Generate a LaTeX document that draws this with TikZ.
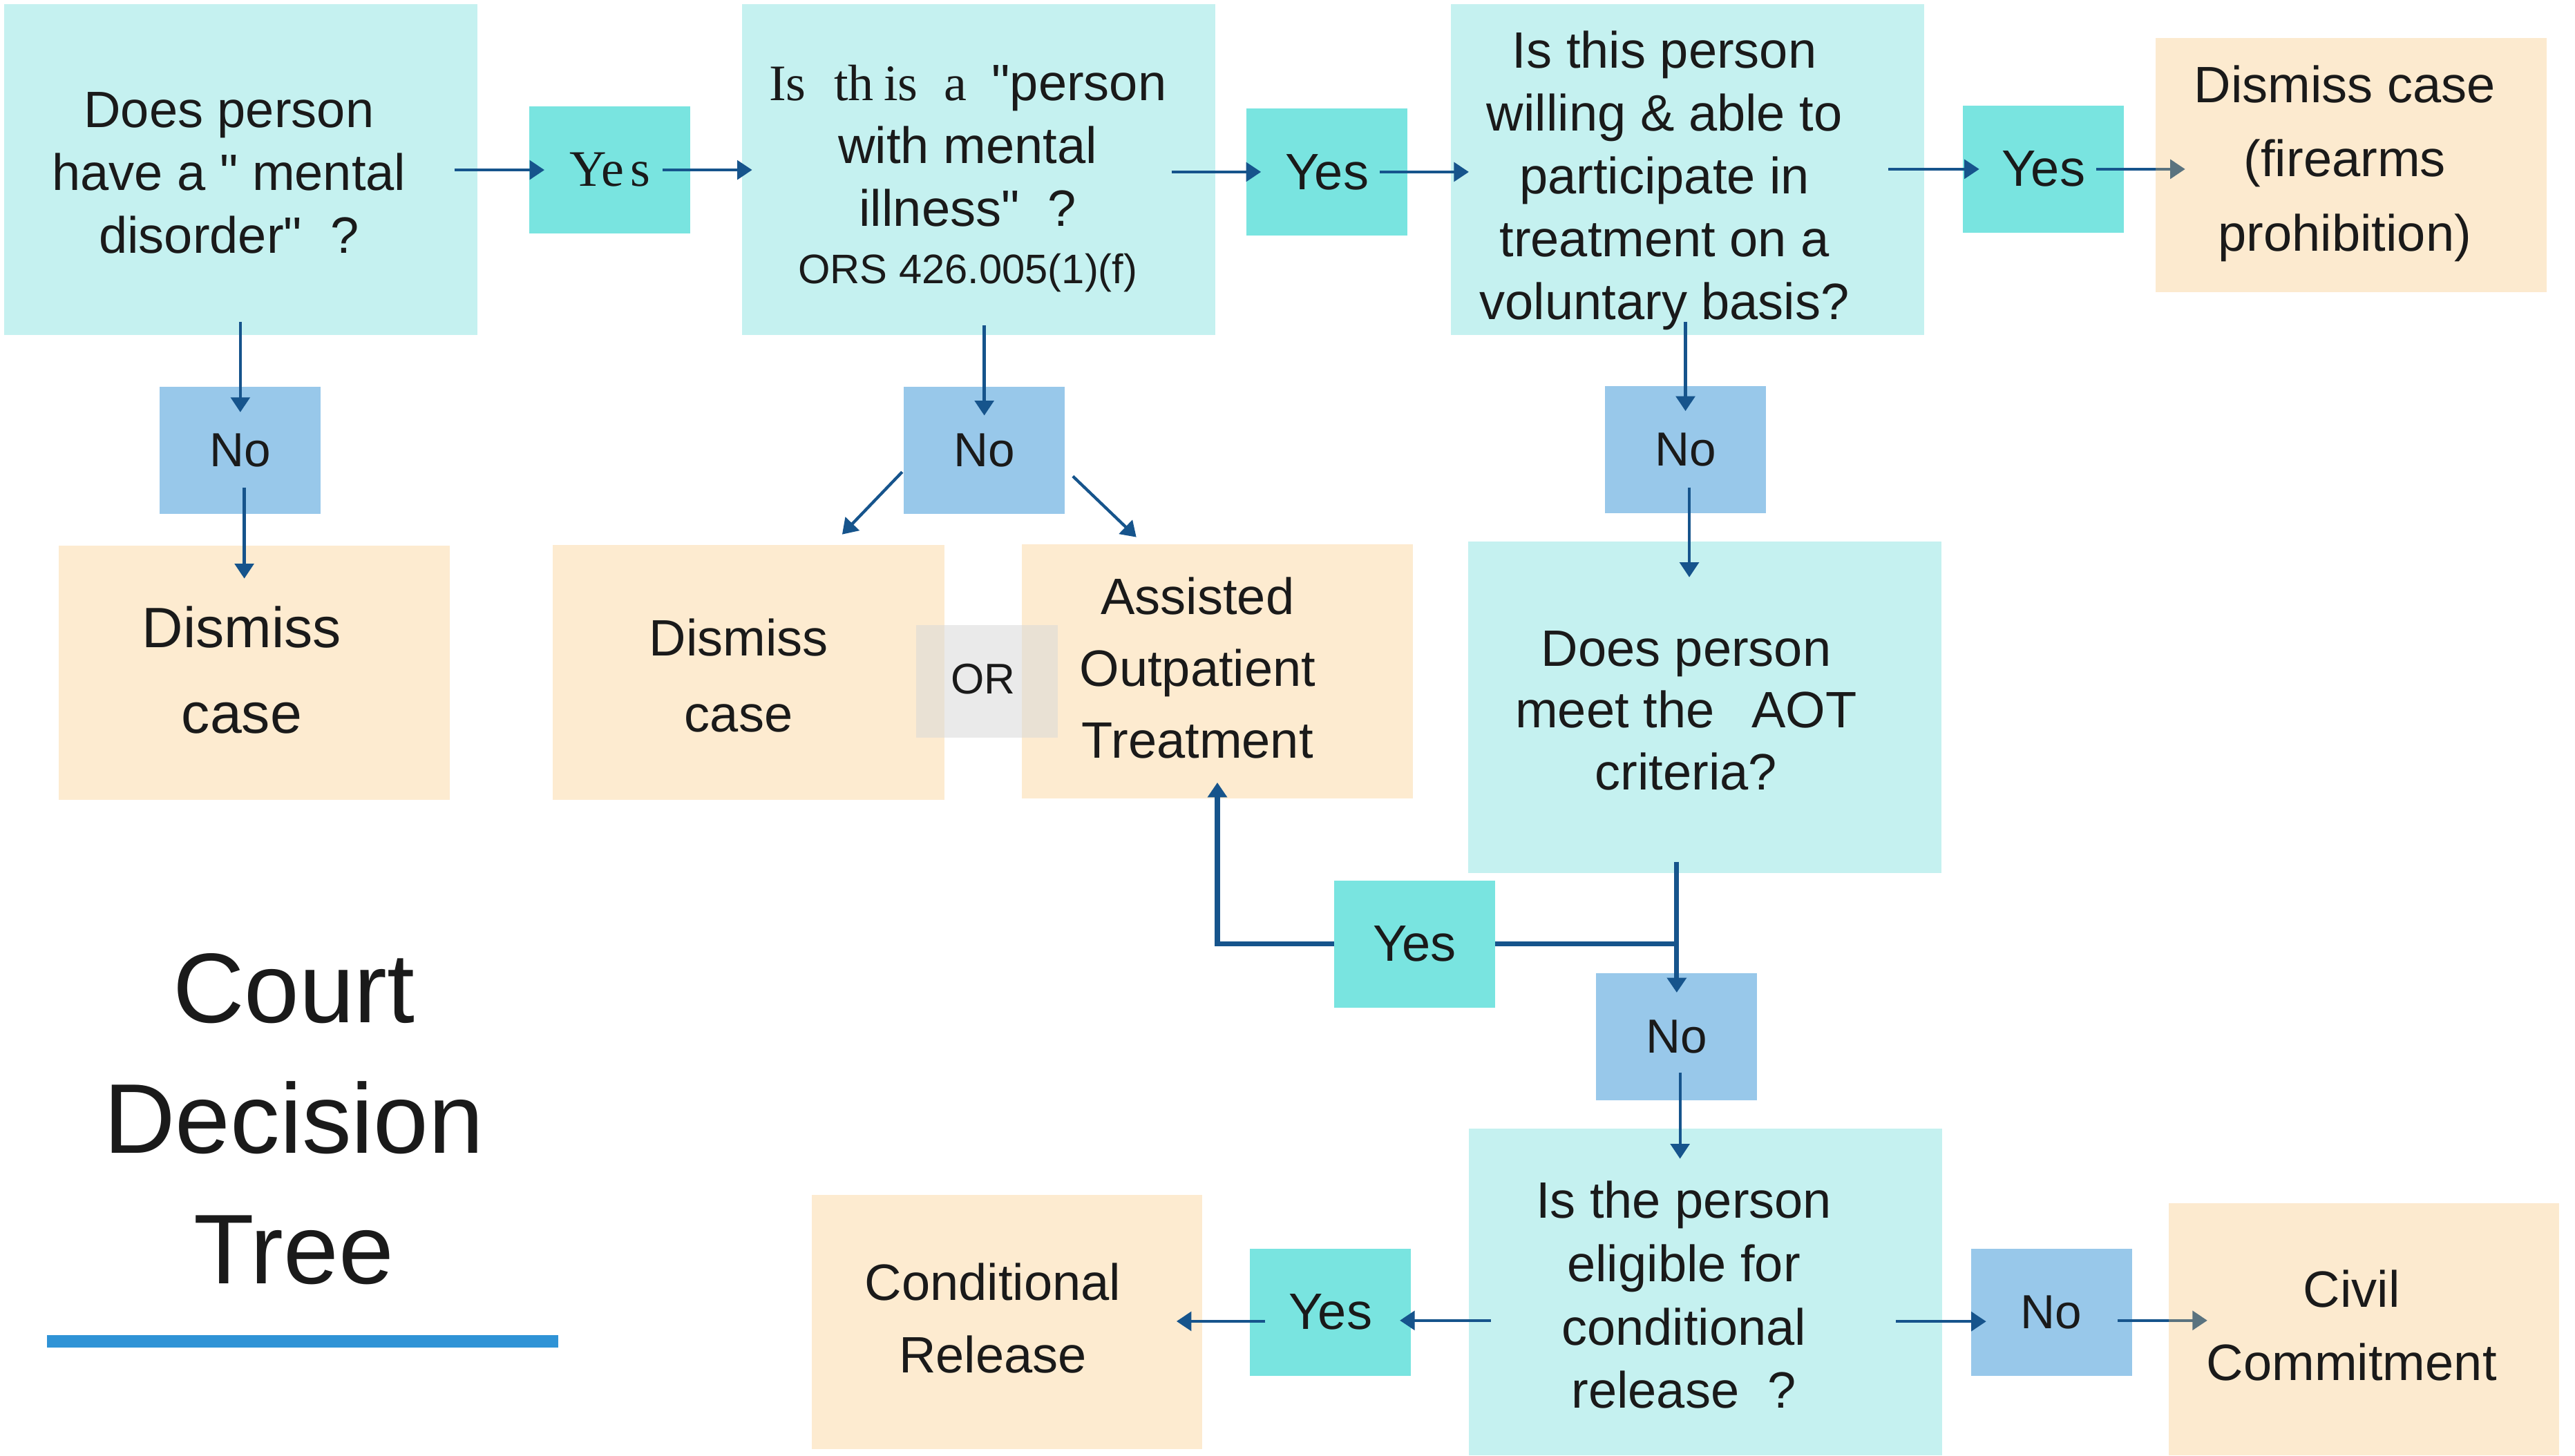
\documentclass[tikz,border=0pt]{standalone}
\usepackage{fontspec}
\setmainfont{Liberation Sans}[Ligatures=TeXOff]
\newfontfamily\seriffam{Liberation Serif}
\usetikzlibrary{arrows.meta,calc}
\definecolor{qcyan}{HTML}{C5F1F0}
\definecolor{yesc}{HTML}{79E4E0}
\definecolor{noc}{HTML}{98C8EA}
\definecolor{peach}{HTML}{FDEBD0}
\definecolor{peachT}{RGB}{248,188,98}
\definecolor{orgray}{RGB}{217,217,217}
\definecolor{arrc}{HTML}{16548C}
\definecolor{txt}{HTML}{1A1A1A}
\definecolor{titleline}{HTML}{2F93D6}
\pgfdeclarelayer{front}
\pgfsetlayers{main,front}
\newcommand\mlines[3][0]{\raisebox{-#1pt}[\height][\depth]{\begin{tabular}{@{}c@{}}#3\end{tabular}}\kern#2pt}
\tikzset{
  basebox/.style={draw=none, inner sep=0pt, text=txt},
  qbox/.style={basebox, fill=qcyan, minimum width=286.7pt, minimum height=200.5pt, font=\fontsize{31}{38}\selectfont},
  ybox/.style={basebox, fill=yesc, minimum width=97.5pt, minimum height=77pt, font=\fontsize{31}{38}\selectfont},
  nbox/.style={basebox, fill=noc, minimum width=97.5pt, minimum height=77pt, font=\fontsize{29}{38}\selectfont},
  pbox/.style={basebox, fill=peach, minimum width=237pt, minimum height=154pt, font=\fontsize{31}{44}\selectfont},
  tbox/.style={basebox, fill=peachT, fill opacity=0.3, text opacity=1, minimum width=237pt, minimum height=154pt, font=\fontsize{31}{44}\selectfont},
  arr/.style={draw=arrc, line width=1.8pt, -{Triangle[length=9pt,width=11.5pt]}},
  thk/.style={draw=arrc, line width=3pt}
}
\begin{document}
\begin{tikzpicture}[x=1pt,y=-1pt]
\path[fill=white, use as bounding box] (0,0) rectangle (1560,882);

% top row
\node[qbox] (A1) at (145.7,102.8) {\mlines[5]{14}{Does person\\have a "\ mental\\disorder"\ \ ?}};
\node[ybox] (Y1) at (369.5,103) {{\seriffam Ye\hspace{4pt}s}};
\node[qbox] (A2) at (592.8,102.8) {\mlines[6]{13}{{\seriffam Is\hspace{17pt}th\hspace{6pt}is\hspace{16pt}a}\hspace{15pt}"person\\with mental\\illness"\ \ ?\\[-3pt]{\fontsize{25}{30}\selectfont ORS 426.005(1)(f)}}};
\node[ybox] (Y2) at (803.9,104.2) {Yes};
\node[qbox] (A3) at (1022.4,102.8) {\mlines[7]{28}{Is this person\\willing \& able to\\participate in\\treatment on a\\voluntary basis?}};
\node[ybox] (Y3) at (1238,102.5) {Yes};
\begin{pgfonlayer}{front}
\node[tbox, font=\fontsize{31}{45}\selectfont] (D3) at (1424.5,100) {\mlines[-2]{8}{Dismiss case\\(firearms\\prohibition)}};
\end{pgfonlayer}

% second row
\node[nbox] (No1) at (145.6,272.9) {No};
\node[pbox, font=\fontsize{34.5}{52}\selectfont] (D1) at (154,407.8) {\mlines{15}{Dismiss\\case}};
\node[nbox] (No2) at (596.3,272.9) {No};
\node[pbox, font=\fontsize{31}{46}\selectfont, minimum height=154.7pt] (D2) at (453.5,407.4) {\mlines[4]{12}{Dismiss\\case}};
\node[pbox, font=\fontsize{31}{43.5}\selectfont] (AOT) at (737.5,407) {\mlines{24}{Assisted\\Outpatient\\Treatment}};
\begin{pgfonlayer}{front}
\node[basebox, fill=orgray, fill opacity=0.55, text opacity=1, minimum width=86pt, minimum height=68pt, font=\fontsize{26}{30}\selectfont] (OR) at (598,413) {\mlines[1.5]{5}{OR}};
\end{pgfonlayer}
\node[nbox] (No3) at (1021.1,272.4) {No};
\node[qbox, minimum height=201pt, font=\fontsize{31}{37.5}\selectfont] (Q4) at (1033,428.5) {\mlines[5]{23}{Does person\\meet the\hspace{14pt} AOT\\criteria?}};

% lower part
\node[ybox] (Y4) at (857,572.1) {Yes};
\node[nbox] (No4) at (1015.8,628.2) {No};
\node[qbox, minimum height=198pt, font=\fontsize{31}{38.5}\selectfont] (Q5) at (1033.1,783) {\mlines[5]{26}{Is the person\\eligible for\\conditional\\release\ \ ?}};
\node[ybox] (Y5) at (806,795.2) {Yes};
\node[pbox, minimum width=236.7pt] (CR) at (610,801.2) {\mlines{17}{Conditional\\Release}};
\node[nbox] (No5) at (1242.8,795.2) {No};
\begin{pgfonlayer}{front}
\node[tbox, minimum width=236.7pt, minimum height=153pt] (CC) at (1432.2,805.5) {\mlines{15}{Civil\\Commitment}};
\end{pgfonlayer}

% title
\node[basebox, font=\fontsize{60}{79}\selectfont] (title) at (178,683) {\mlines{0}{Court\\Decision\\Tree}};
\coordinate (ul1) at (28.6,812.7);
\coordinate (ul2) at (338.2,812.7);
\draw[titleline, line width=7.5pt] (ul1) -- (ul2);

% connectors: top row
\draw[arr, shorten <=-14pt, shorten >=-9.3pt] (A1.east |- Y1.west) -- (Y1.west);
\draw[arr, shorten <=-17pt, shorten >=-6.4pt] (Y1.east) -- (Y1.east -| A2.west);
\draw[arr, shorten <=-26.6pt, shorten >=-9pt] (A2.east |- Y2.west) -- (Y2.west);
\draw[arr, shorten <=-17pt, shorten >=-11pt] (Y2.east) -- (Y2.east -| A3.west);
\draw[arr, shorten <=-22pt, shorten >=-10pt] (A3.east |- Y3.west) -- (Y3.west);
\draw[arr, shorten <=-17pt, shorten >=-18pt] (Y3.east) -- (Y3.east -| D3.west);

% connectors: verticals and diagonals
\draw[arr, shorten <=-8pt, shorten >=-15.6pt] (No1.north |- A1.south) -- (No1.north);
\draw[arr, shorten <=-16pt, shorten >=-20pt] ($(No1.south)+(2.4,0)$) -- ($(No1.south |- D1.north)+(2.4,0)$);
\draw[arr, shorten <=-6pt, shorten >=-17.6pt] (No2.north |- A2.south) -- (No2.north);
\draw[arr] ($(No2.west)+(-0.8,13.1)$) -- ($(D2.north east)+(-62,-6)$);
\draw[arr] ($(No2.east)+(4.7,15.7)$) -- ($(AOT.north west)+(69.6,-4.3)$);
\draw[arr, shorten <=-8.3pt, shorten >=-15.4pt] (No3.north |- A3.south) -- (No3.north);
\draw[arr, shorten <=-15.7pt, shorten >=-22pt] ($(No3.south)+(2.3,0)$) -- ($(No3.south |- Q4.north)+(2.3,0)$);

% AOT branch
\coordinate (J) at (No4.north |- Y4.east);
\draw[thk] (Y4.east) -- (J);
\draw[arr, line width=3pt, shorten <=-7pt, shorten >=-12pt] (No4.north |- Q4.south) -- (No4.north);
\draw[arr, line width=3pt, shorten >=-10pt] (Y4.west) -| (AOT.south);

% bottom row
\draw[arr, shorten <=-17pt, shorten >=-18.4pt] ($(No4.south)+(2,0)$) -- ($(No4.south |- Q5.north)+(2,0)$);
\draw[arr, shorten <=-13.6pt, shorten >=-6.9pt] ($(Q5.west |- Y5.east)+(0,5)$) -- ($(Y5.east)+(0,5)$);
\draw[arr, shorten <=-9.5pt, shorten >=-15.8pt] ($(Y5.west)+(0,5.5)$) -- ($(Y5.west -| CR.east)+(0,5.5)$);
\draw[arr, shorten <=-28pt, shorten >=-9.4pt] ($(Q5.east |- No5.west)+(0,5.6)$) -- ($(No5.west)+(0,5.6)$);
\draw[arr, shorten <=-8.7pt, shorten >=-23.6pt] ($(No5.east)+(0,5)$) -- ($(No5.east -| CC.west)+(0,5)$);
\end{tikzpicture}
\end{document}
